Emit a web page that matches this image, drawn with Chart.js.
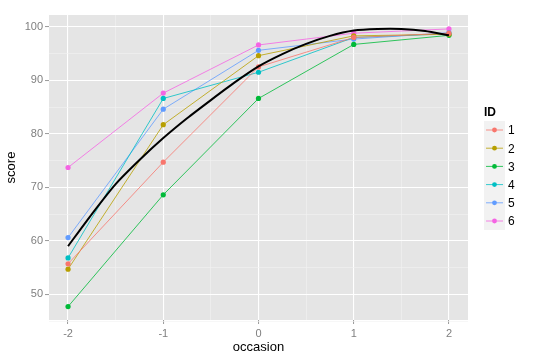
<!DOCTYPE html>
<html>
<head>
<meta charset="utf-8">
<script src="https://cdn.jsdelivr.net/npm/chart.js@4"></script>
<style>
  html, body { margin: 0; padding: 0; background: #fff; }
  #wrap { width: 540px; height: 363px; }
</style>
</head>
<body>
<div id="wrap"><canvas id="c" width="540" height="363"></canvas></div>
<script>
// values
const occasions = [-2, -1, 0, 1, 2];
const id1 = [55.7, 74.7, 92.5, 98.0, 98.8];
const id2 = [54.7, 81.7, 94.6, 98.3, 98.6];
const id3 = [47.7, 68.6, 86.6, 96.7, 98.4];
const id4 = [56.8, 86.6, 91.5, 98.0, 98.7];
const id5 = [60.6, 84.6, 95.6, 97.7, 98.9];
const id6 = [73.7, 87.6, 96.6, 98.8, 99.6];
const fitX = [-2, -1.75, -1.5, -1.25, -1, -0.75, -0.5, -0.25, 0, 0.25, 0.5, 0.75, 1, 1.25, 1.5, 1.75, 2];
const fitY = [59.0, 65.0, 70.6, 75.1, 79.2, 82.9, 86.3, 89.6, 92.6, 94.9, 96.8, 98.3, 99.3, 99.6, 99.6, 99.2, 98.4];

const ids = ['1', '2', '3', '4', '5', '6'];
const idColors = ['#F8766D', '#B79F00', '#00BA38', '#00BFC4', '#619CFF', '#F564E3'];
const xTicks = [-2, -1, 0, 1, 2];
const xMinor = [-1.5, -0.5, 0.5, 1.5];
const yTicks = [50, 60, 70, 80, 90, 100];
const yMinor = [45, 55, 65, 75, 85, 95];

const series = [id1, id2, id3, id4, id5, id6];
const toPts = (xs, ys) => xs.map((x, i) => ({ x: x, y: ys[i] }));

const datasets = [{
    label: 'fit',
    data: toPts(fitX, fitY),
    borderColor: '#000',
    borderWidth: 2,
    pointRadius: 0,
    tension: 0.2,
    fill: false
}];
series.forEach((s, i) => {
    datasets.push({
        label: ids[i],
        data: toPts(occasions, s),
        borderColor: idColors[i],
        backgroundColor: idColors[i],
        borderWidth: 0.8,
        pointRadius: 2.6,
        pointBorderWidth: 0,
        tension: 0,
        fill: false
    });
});

const panelBg = {
    id: 'panelBg',
    beforeDraw(chart) {
        const a = chart.chartArea, ctx = chart.ctx;
        ctx.save();
        ctx.fillStyle = '#E5E5E5';
        ctx.fillRect(a.left, a.top, a.right - a.left, a.bottom - a.top);
        ctx.restore();
    }
};

const legendBox = {
    id: 'legendBox',
    afterDraw(chart) {
        const ctx = chart.ctx;
        ctx.save();
        ctx.fillStyle = '#000';
        ctx.font = 'bold 12px "Liberation Sans", Arial, sans-serif';
        ctx.textBaseline = 'middle';
        ctx.fillText('ID', 484, 113);
        ctx.fillStyle = '#F2F2F2';
        ctx.fillRect(484, 121, 21, 109);
        ids.forEach((id, i) => {
            const y = 130 + i * 18.2;
            ctx.strokeStyle = idColors[i];
            ctx.lineWidth = 0.8;
            ctx.beginPath();
            ctx.moveTo(486, y);
            ctx.lineTo(503, y);
            ctx.stroke();
            ctx.fillStyle = idColors[i];
            ctx.beginPath();
            ctx.arc(494.5, y, 2.4, 0, Math.PI * 2);
            ctx.fill();
            ctx.fillStyle = '#000';
            ctx.font = '12px "Liberation Sans", Arial, sans-serif';
            ctx.fillText(id, 508, y + 1);
        });
        ctx.restore();
    }
};

const isMajor = (list, v) => list.some(t => Math.abs(t - v) < 1e-6);

new Chart(document.getElementById('c'), {
    type: 'line',
    data: { datasets: datasets },
    plugins: [panelBg, legendBox],
    options: {
        responsive: false,
        animation: false,
        layout: { padding: { left: 0, right: 72, top: 15, bottom: 0 } },
        plugins: { legend: { display: false }, tooltip: { enabled: false } },
        scales: {
            x: {
                type: 'linear',
                min: -2.2,
                max: 2.2,
                afterBuildTicks(scale) {
                    scale.ticks = xTicks.concat(xMinor).sort((a, b) => a - b).map(v => ({ value: v }));
                },
                afterFit(scale) { scale.height = 43; },
                border: { display: false },
                grid: {
                    color: c => isMajor(xTicks, c.tick.value) ? '#FFFFFF' : '#F2F2F2',
                    lineWidth: c => isMajor(xTicks, c.tick.value) ? 1.1 : 0.6,
                    tickColor: c => isMajor(xTicks, c.tick.value) ? '#7F7F7F' : 'rgba(0,0,0,0)',
                    tickLength: 4,
                    tickWidth: 0.8
                },
                ticks: {
                    autoSkip: false,
                    maxRotation: 0,
                    padding: 3,
                    color: '#7F7F7F',
                    font: { family: '"Liberation Sans", Arial, sans-serif', size: 11 },
                    callback: v => isMajor(xTicks, v) ? String(v) : ''
                },
                title: {
                    display: true,
                    text: 'occasion',
                    color: '#000',
                    padding: { top: 0, bottom: 8 },
                    font: { family: '"Liberation Sans", Arial, sans-serif', size: 13 }
                }
            },
            y: {
                type: 'linear',
                min: 45.2,
                max: 102.2,
                afterBuildTicks(scale) {
                    scale.ticks = yTicks.concat(yMinor).sort((a, b) => a - b).map(v => ({ value: v }));
                },
                afterFit(scale) { scale.width = 49; },
                border: { display: false },
                grid: {
                    color: c => isMajor(yTicks, c.tick.value) ? '#FFFFFF' : '#F2F2F2',
                    lineWidth: c => isMajor(yTicks, c.tick.value) ? 1.1 : 0.6,
                    tickColor: c => isMajor(yTicks, c.tick.value) ? '#7F7F7F' : 'rgba(0,0,0,0)',
                    tickLength: 4,
                    tickWidth: 0.8
                },
                ticks: {
                    autoSkip: false,
                    padding: 2,
                    color: '#7F7F7F',
                    font: { family: '"Liberation Sans", Arial, sans-serif', size: 11 },
                    callback: v => isMajor(yTicks, v) ? String(v) : ''
                },
                title: {
                    display: true,
                    text: 'score',
                    color: '#000',
                    padding: { top: 4, bottom: 0 },
                    font: { family: '"Liberation Sans", Arial, sans-serif', size: 13 }
                }
            }
        }
    }
});
</script>
</body>
</html>
